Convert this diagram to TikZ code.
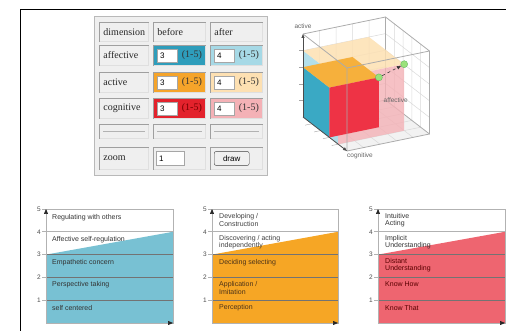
\documentclass[tikz,border=0pt]{standalone}
\usepackage{fontspec}
\setmainfont{Liberation Serif}
\setsansfont{Liberation Sans}
\usepackage{tikz}
\usetikzlibrary{arrows.meta,calc}

\definecolor{panel}{HTML}{EFEFEF}
\definecolor{affB}{HTML}{2E9DBB}
\definecolor{affA}{HTML}{A6D9E6}
\definecolor{actB}{HTML}{F5A42A}
\definecolor{actA}{HTML}{FDE0B2}
\definecolor{cogB}{HTML}{E3222C}
\definecolor{cogA}{HTML}{F4B1B6}
\definecolor{ladTeal}{HTML}{78C1D3}
\definecolor{ladOrange}{HTML}{F6A625}
\definecolor{ladRed}{HTML}{EE6570}
\definecolor{cubeTeal}{HTML}{3AA9C4}
\definecolor{cubeOrange}{HTML}{F6B03C}
\definecolor{cubeRed}{HTML}{EE3345}
\definecolor{dotGreen}{HTML}{9BE27B}

\tikzset{
  cell/.style={draw=gray!25, line width=0.9pt, fill=panel, anchor=north west, inner xsep=4pt, inner ysep=0pt,
    text width=#1, align=left, text=black!85, font=\fontsize{10}{11}\selectfont,
    append after command={(\tikzlastnode.south west) edge[gray!75,line width=0.9pt] (\tikzlastnode.north west)
      (\tikzlastnode.north west) edge[gray!75,line width=0.9pt] (\tikzlastnode.north east)}},
  inbox/.style={draw=gray!70, fill=white, anchor=west, text width=14pt, inner xsep=3pt, inner ysep=0pt,
    minimum height=13pt, align=left, font=\sffamily\fontsize{8}{9}\selectfont},
  rangetext/.style={inner sep=0pt, text=black!80, font=\fontsize{10}{11}\selectfont},
  button/.style={draw=gray!50!black, fill=gray!12, rounded corners=2pt, anchor=west, minimum width=35pt,
    minimum height=14pt, inner sep=0pt, font=\sffamily\fontsize{8}{9}\selectfont},
  hrule/.style={gray!60, line width=0.8pt},
  rung/.style={anchor=west, inner sep=0pt, align=left, text=black!80, font=\sffamily\fontsize{7}{6.5}\selectfont},
  levelnum/.style={inner sep=0pt, text=black!70, font=\sffamily\fontsize{6.5}{6.5}\selectfont},
  ladframe/.style={gray!60, line width=0.7pt},
  ladline/.style={black!55, line width=0.6pt},
  ladaxis/.style={gray!60, line width=0.7pt, -{Triangle[length=5pt,width=4pt,color=black!85]}},
  cubegrid/.style={gray!30, line width=0.5pt},
  cubeedge/.style={gray!65, line width=0.8pt},
  cubelabel/.style={inner sep=0pt, text=gray!80!black, font=\sffamily\fontsize{6.5}{7}\selectfont},
  valdot/.style={circle, fill=dotGreen, draw=green!55!black!60, minimum size=7pt, inner sep=0pt}
}

\begin{document}
\begin{tikzpicture}[x=1pt,y=-1pt]
\useasboundingbox (0,0) rectangle (506,331);
\draw[line width=0.8pt] (20,331) -- (20,9) -- (506,9);

% settings panel
\draw[gray!55,fill=panel] (94,16) rectangle (267,175);

\node[cell=41pt,minimum height=19pt] (dim) at (99,22) {dimension};
\node[cell=44pt,minimum height=19pt] (bef) at (153,22) {before};
\node[cell=44pt,minimum height=19pt] (aft) at (210,22) {after};

\node[cell=41pt,minimum height=20pt] (aff) at (99,45) {affective};
\node[cell=44pt,minimum height=20pt,fill=affB] (aff-b) at (153,45) {};
\node[inbox] (aff-b-val) at ([xshift=4pt]aff-b.west) {3};
\node[rangetext] (aff-b-rng) at ([xshift=-14pt]aff-b.east) {(1-5)};
\node[cell=44pt,minimum height=20pt,fill=affA] (aff-a) at (210,45) {};
\node[inbox] (aff-a-val) at ([xshift=4pt]aff-a.west) {4};
\node[rangetext] (aff-a-rng) at ([xshift=-14pt]aff-a.east) {(1-5)};

\node[cell=41pt,minimum height=20pt] (act) at (99,72) {active};
\node[cell=44pt,minimum height=20pt,fill=actB] (act-b) at (153,72) {};
\node[inbox] (act-b-val) at ([xshift=4pt]act-b.west) {3};
\node[rangetext] (act-b-rng) at ([xshift=-14pt]act-b.east) {(1-5)};
\node[cell=44pt,minimum height=20pt,fill=actA] (act-a) at (210,72) {};
\node[inbox] (act-a-val) at ([xshift=4pt]act-a.west) {4};
\node[rangetext] (act-a-rng) at ([xshift=-14pt]act-a.east) {(1-5)};

\node[cell=41pt,minimum height=20pt] (cog) at (99,98) {cognitive};
\node[cell=44pt,minimum height=20pt,fill=cogB] (cog-b) at (153,98) {};
\node[inbox] (cog-b-val) at ([xshift=4pt]cog-b.west) {3};
\node[rangetext,text=red!45!black] (cog-b-rng) at ([xshift=-14pt]cog-b.east) {(1-5)};
\node[cell=44pt,minimum height=20pt,fill=cogA] (cog-a) at (210,98) {};
\node[inbox] (cog-a-val) at ([xshift=4pt]cog-a.west) {4};
\node[rangetext] (cog-a-rng) at ([xshift=-14pt]cog-a.east) {(1-5)};

\node[cell=41pt,minimum height=14pt] (sep-1) at (99,124) {};
\node[cell=44pt,minimum height=14pt] (sep-2) at (153,124) {};
\node[cell=44pt,minimum height=14pt] (sep-3) at (210,124) {};
\draw[hrule] ([xshift=4pt]sep-1.west) -- ([xshift=-4pt]sep-1.east);
\draw[hrule] ([xshift=4pt]sep-2.west) -- ([xshift=-4pt]sep-2.east);
\draw[hrule] ([xshift=4pt]sep-3.west) -- ([xshift=-4pt]sep-3.east);

\node[cell=41pt,minimum height=22pt] (zm) at (99,147) {zoom};
\node[cell=44pt,minimum height=22pt] (zm-v) at (153,147) {};
\node[inbox,text width=22pt,minimum height=14pt] (zm-val) at ([xshift=3pt]zm-v.west) {1};
\node[cell=44pt,minimum height=22pt] (drw) at (210,147) {};
\node[button] (drw-btn) at ([xshift=4pt]drw.west) {draw};

% cube view
\begin{scope}[shift={(303,117)}, x={(16.5pt,3.4pt)}, y={(8.8pt,-6.8pt)}, z={(0pt,16.6pt)}]
  \fill[black!5] (0,0,0) -- (5,0,0) -- (5,5,0) -- (0,5,0) -- cycle;
  \foreach \i in {1,...,4} {
    \draw[cubegrid] (\i,0,0) -- (\i,5,0) (0,\i,0) -- (5,\i,0);
    \draw[cubegrid] (\i,0,0) -- (\i,0,5) (0,0,\i) -- (5,0,\i);
    \draw[cubegrid] (5,\i,0) -- (5,\i,5) (5,0,\i) -- (5,5,\i);
  }
  \draw[cubeedge] (0,0,5) -- (5,0,5) -- (5,0,0) -- (0,0,0) (5,0,0) -- (5,5,0);
  % after = 4
  \fill[affA,fill opacity=0.85] (0,0,0) -- (0,4,0) -- (0,4,4) -- (0,0,4) -- cycle;
  \fill[actA,fill opacity=0.85] (0,0,4) -- (4,0,4) -- (4,4,4) -- (0,4,4) -- cycle;
  \fill[cogA,fill opacity=0.8] (0,4,0) -- (4,4,0) -- (4,4,4) -- (0,4,4) -- cycle;
  % before = 3
  \fill[cubeTeal] (0,0,0) -- (0,3,0) -- (0,3,3) -- (0,0,3) -- cycle;
  \fill[cubeOrange] (0,0,3) -- (3,0,3) -- (3,3,3) -- (0,3,3) -- cycle;
  \fill[cubeRed] (0,3,0) -- (3,3,0) -- (3,3,3) -- (0,3,3) -- cycle;
  \draw[cubeedge] (0,5,0) -- (5,5,0) -- (5,5,5) -- (0,5,5) -- cycle
    (0,5,5) -- (0,0,5) (5,5,5) -- (5,0,5);
  \foreach \i in {1,...,4} {
    \draw[gray!70] (0,0,\i) -- ++(-4pt,0pt);
    \draw[gray!70] (0,\i,0) -- ++(-0.4,0,0);
  }
  \coordinate (ax-o) at (0,0,0);
  \coordinate (ax-act) at (0,0,5);
  \coordinate (ax-cog) at (0,5,0);
  \coordinate (ax-aff) at (5,0,0);
  \draw[gray!60!black, line width=0.8pt, -{Triangle[length=4pt,width=3pt]}] (ax-o) -- (ax-act);
  \draw[gray!60!black, line width=0.8pt, -{Triangle[length=4pt,width=3pt]}] (ax-o) -- (ax-cog);
  \node[cubelabel, anchor=south] (lbl-act) at ([yshift=5pt]ax-act) {active};
  \node[cubelabel, anchor=north west] (lbl-cog) at ([yshift=-2pt]ax-cog) {cognitive};
  \node[cubelabel, anchor=west] (lbl-aff) at ([xshift=-2pt]ax-aff) {affective};
  \node[valdot] (pt-before) at (3,3,3) {};
  \node[valdot] (pt-after) at (4,4,4) {};
  \draw[black!80, dashed, line width=0.6pt, -{Triangle[length=4pt,width=3.5pt]}] (pt-before) -- (pt-after);
\end{scope}

% social ladder
\begin{scope}[shift={(46,323)}, y={(0pt,22.8pt)}]
  \fill[ladTeal] (0,0) -- (0,3) -- (127,4) -- (127,0) -- cycle;
  \draw[ladframe] (0,4) -- (127,4);
  \foreach \k in {1,2,3} \draw[ladline] (0,\k) -- (127,\k);
  \draw[ladframe] (0,0) rectangle (127,5);
  \foreach \k in {1,...,5} {
    \draw[ladframe] (-4,\k) -- (0,\k);
    \node[levelnum] at (-7,\k) {\k};
  }
  \coordinate (soc-o) at (0,0);
  \coordinate (soc-up) at (0,5);
  \coordinate (soc-rt) at (127,0);
  \draw[ladaxis] (soc-o) -- (soc-up);
  \draw[ladaxis] (soc-o) -- (soc-rt);
  \node[rung] (soc-5) at (6,4.64) {Regulating with others};
  \node[rung] (soc-4) at (6,3.66) {Affective self-regulation};
  \node[rung] (soc-3) at (6,2.66) {Empathetic concern};
  \node[rung] (soc-2) at (6,1.66) {Perspective taking};
  \node[rung] (soc-1) at (6,0.66) {self centered};
\end{scope}

% action ladder
\begin{scope}[shift={(212,323)}, y={(0pt,22.8pt)}]
  \fill[ladOrange] (0,0) -- (0,3) -- (126,4) -- (126,0) -- cycle;
  \draw[ladframe] (0,4) -- (126,4);
  \foreach \k in {1,2,3} \draw[ladline] (0,\k) -- (126,\k);
  \draw[ladframe] (0,0) rectangle (126,5);
  \foreach \k in {1,...,5} {
    \draw[ladframe] (-4,\k) -- (0,\k);
    \node[levelnum] at (-7,\k) {\k};
  }
  \coordinate (act-o) at (0,0);
  \coordinate (act-up) at (0,5);
  \coordinate (act-rt) at (126,0);
  \draw[ladaxis] (act-o) -- (act-up);
  \draw[ladaxis] (act-o) -- (act-rt);
  \node[rung,text=black!75] (act-5) at (7,4.52) {Developing /\\Construction};
  \node[rung,text=black!75] (act-4) at (7,3.54) {Discovering / acting\\independently};
  \node[rung,text=brown!40!black] (act-3) at (7,2.66) {Deciding selecting};
  \node[rung,text=brown!40!black] (act-2) at (7,1.54) {Application /\\Imitation};
  \node[rung,text=brown!40!black] (act-1) at (7,0.66) {Perception};
\end{scope}

% knowing ladder
\begin{scope}[shift={(378,323)}, y={(0pt,22.8pt)}]
  \fill[ladRed] (0,0) -- (0,3) -- (127,4) -- (127,0) -- cycle;
  \draw[ladframe] (0,4) -- (127,4);
  \foreach \k in {1,2,3} \draw[ladline] (0,\k) -- (127,\k);
  \draw[ladframe] (0,0) rectangle (127,5);
  \foreach \k in {1,...,5} {
    \draw[ladframe] (-4,\k) -- (0,\k);
    \node[levelnum] at (-7,\k) {\k};
  }
  \coordinate (kno-o) at (0,0);
  \coordinate (kno-up) at (0,5);
  \coordinate (kno-rt) at (127,0);
  \draw[ladaxis] (kno-o) -- (kno-up);
  \draw[ladaxis] (kno-o) -- (kno-rt);
  \node[rung] (kno-5) at (7,4.52) {Intuitive\\Acting};
  \node[rung] (kno-4) at (7,3.54) {Implicit\\Understanding};
  \node[rung,text=red!35!black] (kno-3) at (7,2.54) {Distant\\Understanding};
  \node[rung,text=red!35!black] (kno-2) at (7,1.7) {Know How};
  \node[rung,text=red!35!black] (kno-1) at (7,0.66) {Know That};
\end{scope}
\end{tikzpicture}
\end{document}
